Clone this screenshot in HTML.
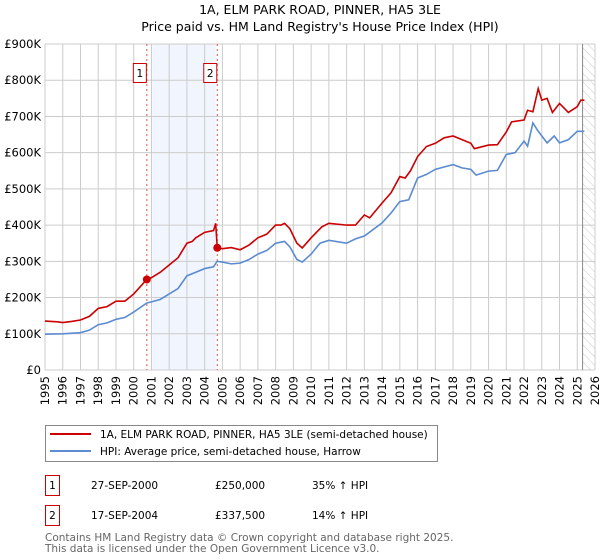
<!DOCTYPE html>
<html><head><meta charset="utf-8">
<style>
html,body{margin:0;padding:0;background:#fff;}
svg{display:block;font-family:"DejaVu Sans","Liberation Sans",sans-serif;}
</style></head>
<body>
<svg id="chart" width="600" height="560" viewBox="0 0 600 560">
<defs>
<pattern id="hatch" width="6" height="6" patternUnits="userSpaceOnUse" patternTransform="rotate(-45)">
<line x1="0" y1="0" x2="0" y2="6" stroke="#ccc" stroke-width="1"/>
</pattern>
</defs>
<text x="320" y="14" text-anchor="middle" font-size="12.5" fill="#000">1A, ELM PARK ROAD, PINNER, HA5 3LE</text>
<text x="320" y="31" text-anchor="middle" font-size="12.5" fill="#000">Price paid vs. HM Land Registry's House Price Index (HPI)</text>
<g id="grid"></g>
<g id="marks"></g>
<g id="axes"></g>
<g>
<rect x="45.5" y="425.5" width="392" height="36" fill="#fff" stroke="#888"/>
<line x1="50" y1="434" x2="91" y2="434" stroke="#cc0000" stroke-width="2"/>
<text x="100" y="438" font-size="10.5">1A, ELM PARK ROAD, PINNER, HA5 3LE (semi-detached house)</text>
<line x1="50" y1="451" x2="91" y2="451" stroke="#5b8bd0" stroke-width="2"/>
<text x="100" y="455" font-size="10.5">HPI: Average price, semi-detached house, Harrow</text>
</g>
<g>
<rect x="45.5" y="475.5" width="14" height="20" fill="#fff" stroke="#cc0000"/>
<text x="52.5" y="489" text-anchor="middle" font-size="10.5">1</text>
<text x="91" y="489" font-size="10.5">27-SEP-2000</text>
<text x="215" y="489" font-size="10.5">£250,000</text>
<text x="312" y="489" font-size="10.5">35% ↑ HPI</text>
<rect x="45.5" y="505.5" width="14" height="20" fill="#fff" stroke="#cc0000"/>
<text x="52.5" y="519" text-anchor="middle" font-size="10.5">2</text>
<text x="91" y="519" font-size="10.5">17-SEP-2004</text>
<text x="215" y="519" font-size="10.5">£337,500</text>
<text x="312" y="519" font-size="10.5">14% ↑ HPI</text>
</g>
<text x="45" y="541" font-size="10.5" fill="#666">Contains HM Land Registry data © Crown copyright and database right 2025.</text>
<text x="45" y="552" font-size="10.5" fill="#666">This data is licensed under the Open Government Licence v3.0.</text>
</svg>
<script>
const yearTicks = [1995,1996,1997,1998,1999,2000,2001,2002,2003,2004,2005,2006,2007,2008,2009,2010,2011,2012,2013,2014,2015,2016,2017,2018,2019,2020,2021,2022,2023,2024,2025,2026];
const valueTicks = [0,100,200,300,400,500,600,700,800,900];
const valueTickLabels = ["£0","£100K","£200K","£300K","£400K","£500K","£600K","£700K","£800K","£900K"];
const propYears = [1995,1995.7,1996,1996.5,1997,1997.5,1998,1998.5,1999,1999.5,2000,2000.74,2001,2001.5,2002,2002.5,2003,2003.3,2003.5,2004,2004.5,2004.62,2004.71,2005,2005.5,2006,2006.5,2007,2007.5,2008,2008.3,2008.5,2008.8,2009.2,2009.5,2010,2010.6,2011,2012,2012.5,2013,2013.3,2014,2014.5,2015,2015.3,2015.6,2016,2016.5,2017,2017.5,2018,2018.5,2019,2019.2,2020,2020.5,2021,2021.3,2022,2022.2,2022.5,2022.8,2023,2023.3,2023.6,2024,2024.5,2025,2025.2,2025.4];
const propValues = [135,133,131,134,138,148,170,175,190,190,210,250,255,270,290,310,350,355,365,380,385,405,337,335,338,332,345,365,375,400,400,405,390,350,337,365,395,405,400,400,428,420,461,489,534,530,550,589,617,626,641,646,636,626,611,621,622,657,685,690,717,713,777,745,750,711,736,711,727,745,745];
const hpiYears = [1995,1996,1997,1997.5,1998,1998.5,1999,1999.5,2000,2000.74,2001,2001.5,2002,2002.5,2003,2003.5,2004,2004.5,2004.7,2005,2005.5,2006,2006.5,2007,2007.5,2008,2008.5,2008.8,2009.2,2009.5,2010,2010.5,2011,2012,2012.5,2013,2014,2014.5,2015,2015.5,2016,2016.5,2017,2018,2018.5,2019,2019.3,2020,2020.5,2021,2021.5,2022,2022.2,2022.5,2022.8,2023.3,2023.7,2024,2024.5,2025,2025.4];
const hpiValues = [99,100,103,110,125,130,140,145,160,185,188,195,210,225,260,270,280,285,300,298,293,295,305,320,330,350,355,340,305,298,320,350,358,350,362,370,406,433,465,470,530,540,554,567,558,554,538,549,551,595,600,632,618,682,659,627,646,627,636,659,659];
const saleYears = [2000.74, 2004.71];
const saleValues = [250, 337.5];
const saleLabels = ["1","2"];

const NS="http://www.w3.org/2000/svg";
const X0=45,X1=595,Y0=370,Y1=44;
const xs=y=>X0+(y-1995)/(2026-1995)*(X1-X0);
const ys=v=>Y0-v/900*(Y0-Y1);
function mk(tag,attrs,parent){const e=document.createElementNS(NS,tag);for(const k in attrs)e.setAttribute(k,attrs[k]);parent.appendChild(e);return e;}
const grid=document.getElementById('grid'),marks=document.getElementById('marks'),axes=document.getElementById('axes');

let r=mk('rect',{x:xs(2001.05),y:Y1,width:xs(2004.62)-xs(2001.05),height:Y0-Y1,fill:'#eef3fd',opacity:0.8},grid);


let h=mk('rect',{x:xs(2025.3),y:Y1,width:X1-xs(2025.3),height:Y0-Y1,fill:'url(#hatch)'},grid);



yearTicks.forEach(y=>{
  const l=mk('line',{x1:xs(y),x2:xs(y),y1:Y1,y2:Y0,stroke:'#cccccc','stroke-width':1},grid);
  
  
  const t=mk('text',{x:0,y:0,'font-size':11.5,'text-anchor':'end','transform':`translate(${xs(y)+4},${Y0+6}) rotate(-90)`},axes);
  t.textContent=y;
  
  
});
valueTicks.forEach((v,i)=>{
  const l=mk('line',{x1:X0,x2:X1,y1:ys(v),y2:ys(v),stroke:'#cccccc','stroke-width':1},grid);
  
  
  const t=mk('text',{x:X0-4,y:ys(v)+4,'font-size':11.5,'text-anchor':'end'},axes);
  t.textContent=valueTickLabels[i];
  
  
});
let nl=mk('line',{x1:xs(2025.3),x2:xs(2025.3),y1:Y1,y2:Y0,stroke:'#888','stroke-width':1},grid);



saleYears.forEach((y,i)=>{
  const l=mk('line',{x1:xs(y),x2:xs(y),y1:Y1,y2:Y0,stroke:'#e05050','stroke-width':1,'stroke-dasharray':'2,3'},marks);
  
  
  const b=mk('rect',{x:xs(y)-13.5,y:63.5,width:13,height:19,fill:'#fff',stroke:'#cc0000'},marks);
  
  
  const t=mk('text',{x:xs(y)-7,y:77,'font-size':10.5,'text-anchor':'middle'},marks);
  t.textContent=saleLabels[i];
  
  
});

const hp=mk('polyline',{points:hpiYears.map((y,i)=>xs(y)+','+ys(hpiValues[i])).join(' '),fill:'none',stroke:'#5b8bd0','stroke-width':1.6},marks);


const pp=mk('polyline',{points:propYears.map((y,i)=>xs(y)+','+ys(propValues[i])).join(' '),fill:'none',stroke:'#cc0000','stroke-width':1.6},marks);


saleYears.forEach((y,i)=>{
  const c=mk('circle',{cx:xs(y),cy:ys(saleValues[i]),r:4,fill:'#cc0000'},marks);
  
  
});
</script>
</body></html>
